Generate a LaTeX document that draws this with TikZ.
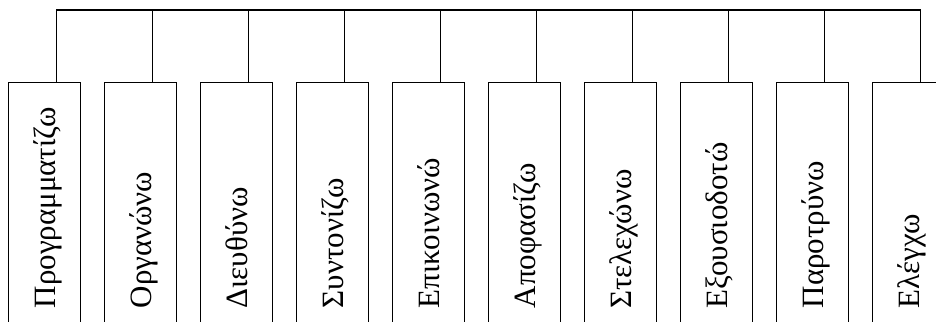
\documentclass[tikz,border=0pt]{standalone}
\usepackage{fontspec}
\setmainfont{Liberation Serif}
\begin{document}
\begin{tikzpicture}[x=1pt,y=1pt,
  line width=1.4pt,
  taskbox/.style={draw=black, rectangle, inner sep=0pt,
    minimum width=72.3pt, minimum height=260pt},
  tasklabel/.style={rotate=90, anchor=base west, inner sep=0pt,
    font=\fontsize{31}{31}\selectfont}]
  \useasboundingbox (0,0) rectangle (936,321);
  \clip (0,0) rectangle (936,321);
  \coordinate (bus) at (0,311);
  \foreach \i/\word in {1/Προγραμματίζω, 2/Οργανώνω, 3/Διευθύνω,
      4/Συντονίζω, 5/Επικοινωνώ, 6/Αποφασίζω, 7/Στελεχώνω,
      8/Εξουσιοδοτώ, 9/Παροτρύνω, 10/Ελέγχω} {
    % open-bottom task boxes, one every 96pt
    \node[taskbox, anchor=north west] (b\i) at ({7.7+96*(\i-1)},239.3) {};
    \node[tasklabel] (t\i) at ([xshift=48pt]b\i.west |- 0,12) {\word};
    \coordinate (v\i) at ([xshift=11.65pt]b\i.north);
  }
  % bus line with its two end drops
  \draw (v1) -- (v1 |- bus) -- (v10 |- bus) -- (v10);
  \foreach \i in {2,...,9} {
    \draw (v\i) -- (v\i |- bus);
  }
\end{tikzpicture}
\end{document}
